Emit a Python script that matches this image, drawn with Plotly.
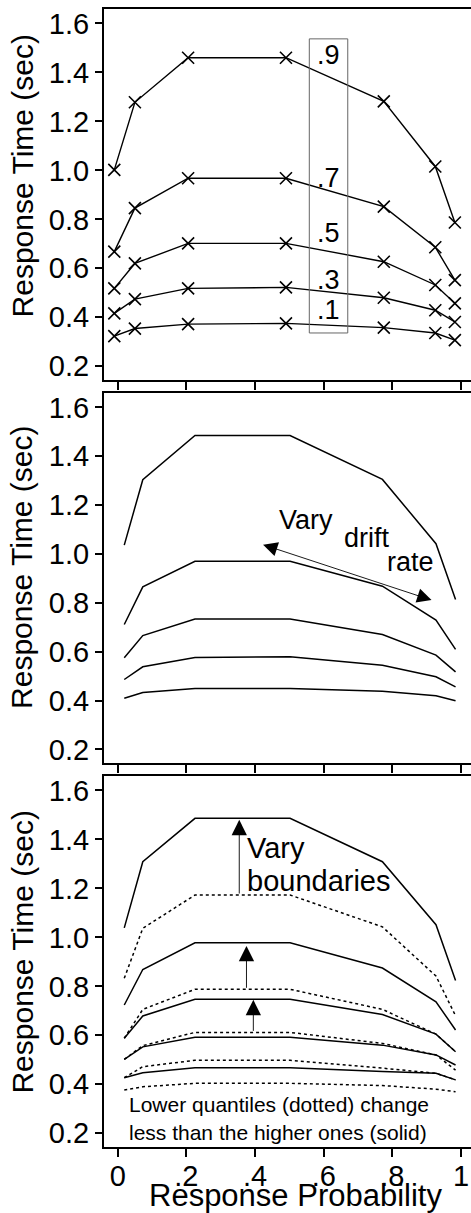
import plotly.graph_objects as go
from plotly.subplots import make_subplots

# response probability (x) for data and model predictions
p_data = [-0.01, 0.05, 0.205, 0.49, 0.775, 0.925, 0.982]
p_model = [0.019, 0.073, 0.225, 0.502, 0.771, 0.927, 0.984]

quantiles = [".1", ".3", ".5", ".7", ".9"]

# panel 1: observed RT quantiles (sec)
data_q1 = [0.323, 0.354, 0.372, 0.375, 0.358, 0.336, 0.307]
data_q3 = [0.416, 0.474, 0.518, 0.522, 0.480, 0.429, 0.381]
data_q5 = [0.518, 0.620, 0.702, 0.702, 0.627, 0.532, 0.457]
data_q7 = [0.668, 0.846, 0.968, 0.968, 0.852, 0.686, 0.552]
data_q9 = [1.002, 1.278, 1.460, 1.460, 1.282, 1.016, 0.787]

# panel 2: model, drift rate varied
drift_q1 = [0.409, 0.433, 0.449, 0.449, 0.438, 0.419, 0.399]
drift_q3 = [0.486, 0.538, 0.576, 0.579, 0.544, 0.497, 0.456]
drift_q5 = [0.575, 0.666, 0.734, 0.734, 0.670, 0.586, 0.517]
drift_q7 = [0.711, 0.865, 0.970, 0.970, 0.868, 0.729, 0.609]
drift_q9 = [1.036, 1.304, 1.485, 1.485, 1.305, 1.042, 0.813]

# panel 3: model, boundaries varied (solid = wide, dotted = narrow)
wide_q1 = [0.427, 0.447, 0.468, 0.468, 0.452, 0.445, 0.418]
wide_q3 = [0.502, 0.553, 0.592, 0.592, 0.560, 0.520, 0.479]
wide_q5 = [0.588, 0.679, 0.747, 0.747, 0.685, 0.605, 0.533]
wide_q7 = [0.724, 0.869, 0.978, 0.978, 0.875, 0.737, 0.622]
wide_q9 = [1.039, 1.309, 1.486, 1.486, 1.309, 1.052, 0.824]
narrow_q1 = [0.377, 0.390, 0.404, 0.404, 0.395, 0.380, 0.370]
narrow_q3 = [0.427, 0.472, 0.498, 0.498, 0.466, 0.445, 0.418]
narrow_q5 = [0.502, 0.558, 0.612, 0.612, 0.567, 0.520, 0.458]
narrow_q7 = [0.588, 0.706, 0.788, 0.788, 0.706, 0.605, 0.533]
narrow_q9 = [0.833, 1.037, 1.173, 1.173, 1.043, 0.842, 0.680]

x_ticks = [0, 0.2, 0.4, 0.6, 0.8, 1]
x_ticktext = ["0", ".2", ".4", ".6", ".8", "1"]
y_ticks = [0.2, 0.4, 0.6, 0.8, 1.0, 1.2, 1.4, 1.6]

FONT = "Liberation Sans, Arial, Helvetica, sans-serif"
INK = "black"

fig = make_subplots(rows=3, cols=1)

for ys in [data_q1, data_q3, data_q5, data_q7, data_q9]:
    fig.add_trace(go.Scatter(
        x=p_data, y=ys, mode="lines+markers",
        line=dict(color=INK, width=1.4),
        marker=dict(symbol="x-thin", size=12, line=dict(width=1.6, color=INK)),
        showlegend=False,
    ), row=1, col=1)

for ys in [drift_q1, drift_q3, drift_q5, drift_q7, drift_q9]:
    fig.add_trace(go.Scatter(
        x=p_model, y=ys, mode="lines",
        line=dict(color=INK, width=1.5), showlegend=False,
    ), row=2, col=1)

for ys in [narrow_q1, narrow_q3, narrow_q5, narrow_q7, narrow_q9]:
    fig.add_trace(go.Scatter(
        x=p_model, y=ys, mode="lines",
        line=dict(color=INK, width=1.5, dash="dot"), showlegend=False,
    ), row=3, col=1)
for ys in [wide_q1, wide_q3, wide_q5, wide_q7, wide_q9]:
    fig.add_trace(go.Scatter(
        x=p_model, y=ys, mode="lines",
        line=dict(color=INK, width=1.5), showlegend=False,
    ), row=3, col=1)

domains = [[0.674, 1.0], [0.3374, 0.6626], [0.0, 0.326]]
for i, dom in enumerate(domains, start=1):
    fig.update_yaxes(
        domain=dom, range=[0.144, 1.659], tickvals=y_ticks,
        tickformat=".1f", ticks="outside", ticklen=7, tickwidth=1.5,
        tickcolor=INK, showline=True, linewidth=2, linecolor=INK,
        showgrid=False, zeroline=False,
        tickfont=dict(family=FONT, size=29, color=INK),
        row=i, col=1,
    )
    fig.update_xaxes(
        range=[-0.04, 1.029], tickvals=x_ticks, ticktext=x_ticktext,
        ticks="outside", ticklen=8, tickwidth=1.5, tickcolor=INK,
        showline=True, mirror=True, linewidth=2, linecolor=INK,
        showgrid=False, zeroline=False, showticklabels=(i == 3),
        ticklabelstandoff=-6,
        tickfont=dict(family=FONT, size=29, color=INK),
        row=i, col=1,
    )

# quantile box in the top panel
fig.add_shape(type="rect", xref="x", yref="y", x0=0.558, x1=0.670,
              y0=0.336, y1=1.537, line=dict(color="#666666", width=1))
q_label_y = [0.429, 0.552, 0.743, 0.968, 1.473]
for lab, yy in zip(quantiles, q_label_y):
    fig.add_annotation(x=0.613, y=yy, xref="x", yref="y", text=lab,
                       showarrow=False, font=dict(family=FONT, size=27, color=INK))

ann = []
# y titles
for yy in [0.853, 0.509, 0.171]:
    ann.append(dict(x=-0.223, y=yy, xref="paper", yref="paper",
                    text="Response Time (sec)", textangle=-90, showarrow=False,
                    xanchor="center", yanchor="middle",
                    font=dict(family=FONT, size=30, color=INK)))
ann.append(dict(x=0.523, y=-0.043, xref="paper", yref="paper",
                text="Response Probability", showarrow=False,
                xanchor="center", yanchor="middle",
                font=dict(family=FONT, size=31, color=INK)))

# panel 2: vary drift rate
for txt, xx, yy in [("Vary", 0.548, 1.138), ("drift", 0.725, 1.064), ("rate", 0.854, 0.966)]:
    ann.append(dict(x=xx, y=yy, xref="x2", yref="y2", text=txt, showarrow=False,
                    font=dict(family=FONT, size=27, color=INK)))
ann.append(dict(x=0.914, y=0.811, ax=0.419, ay=1.04, xref="x2", yref="y2",
                axref="x2", ayref="y2", text="", showarrow=True,
                arrowhead=2, startarrowhead=2, arrowside="end+start",
                arrowsize=3.2, startarrowsize=3.2, arrowwidth=0.9, arrowcolor=INK))

# panel 3: vary boundaries
for txt, yy in [("Vary", 1.364), ("boundaries", 1.230)]:
    ann.append(dict(x=0.371, y=yy, xref="x3", yref="y3", text=txt, showarrow=False,
                    xanchor="left", font=dict(family=FONT, size=29, color=INK)))
for xx, y_tail, y_tip in [(0.354, 1.173, 1.48), (0.375, 0.788, 0.965), (0.395, 0.612, 0.745)]:
    ann.append(dict(x=xx, y=y_tip, ax=xx, ay=y_tail, xref="x3", yref="y3",
                    axref="x3", ayref="y3", text="", showarrow=True,
                    arrowhead=2, arrowsize=3.4, arrowwidth=0.9, arrowcolor=INK))
for txt, yy in [("Lower quantiles (dotted) change", 0.316),
                ("less than the higher ones (solid)", 0.204)]:
    ann.append(dict(x=0.026, y=yy, xref="x3", yref="y3", text=txt, showarrow=False,
                    xanchor="left", font=dict(family=FONT, size=21, color=INK)))

for a in ann:
    fig.add_annotation(**a)

fig.update_layout(
    width=471, height=1213,
    margin=dict(l=104, r=0, t=9, b=66),
    plot_bgcolor="white", paper_bgcolor="white",
    font=dict(family=FONT, color=INK),
)

# drop the default page margin so the figure sits at the window corner
fig.write_html(
    "out.html",
    config={"displayModeBar": False},
    post_script="document.body.style.margin='0px';document.body.style.overflow='hidden';",
)
